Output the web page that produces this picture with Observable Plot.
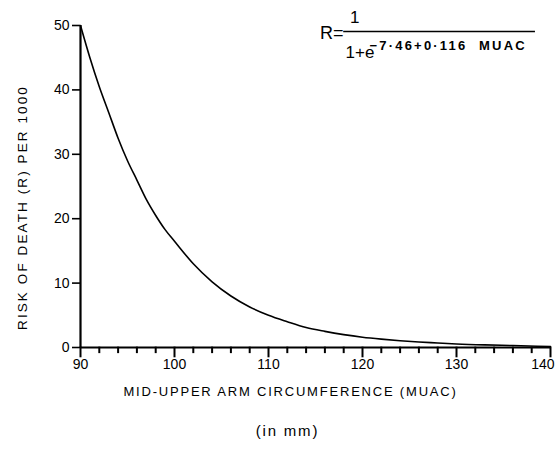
<!DOCTYPE html>
<html><head><meta charset="utf-8">
<script src="https://cdn.jsdelivr.net/npm/d3@7"></script>
<script src="https://cdn.jsdelivr.net/npm/@observablehq/plot@0.6"></script>
<style>
body{margin:0;background:#fff}
svg{font-family:"Liberation Sans",Arial,sans-serif}
.lab text{letter-spacing:1.8px}
.ylab text{letter-spacing:2.1px}
.expo text{letter-spacing:2.2px}
</style>
</head><body><div id="chart"></div>
<script>
// Curve: MUAC (mm) vs risk of death per 1000
const muac = [90, 91, 92, 93, 94, 95, 96, 97, 98, 99, 100, 102, 104, 106, 108, 110, 112, 114, 116, 118, 120, 122, 124, 126, 128, 130, 133, 136, 140];
const risk = [50, 45, 40.5, 36.5, 32.5, 29, 26, 23, 20.5, 18.3, 16.5, 13, 10.2, 8, 6.3, 5, 4, 3.1, 2.5, 2, 1.6, 1.3, 1.05, 0.85, 0.7, 0.55, 0.4, 0.3, 0.15];
const xTickValues = [90, 100, 110, 120, 130];
const xLastTick = [140];
const xMajorTickValues = [90, 100, 110, 120, 130, 140];
const xMinorTickValues = [92, 94, 96, 98, 102, 104, 106, 108, 112, 114, 116, 118, 122, 124, 126, 128, 132, 134, 136, 138];
const yTickValues = [0, 10, 20, 30, 40, 50];
const yTitle = "RISK OF DEATH (R) PER 1000";
const xTitle = "MID-UPPER ARM CIRCUMFERENCE (MUAC)";
const xUnit = "(in mm)";

const data = muac.map((m, i) => ({muac: m, risk: risk[i]}));

const chart = Plot.plot({
  width: 559,
  height: 463,
  marginLeft: 80,
  marginRight: 9,
  marginTop: 25,
  marginBottom: 116,
  style: {fontFamily: "Liberation Sans, Arial, sans-serif", color: "#000", background: "#fff"},
  x: {domain: [90, 140], label: null},
  y: {domain: [0, 50], label: null},
  marks: [
    Plot.ruleX([90], {y1: 0, y2: 50, strokeWidth: 2.2}),
    Plot.ruleY([0], {x1: 90, x2: 140, strokeWidth: 2.2}),
    Plot.axisX({ticks: xTickValues, tickSize: 0, tickPadding: 12, fontSize: 14, label: null}),
    Plot.axisX({ticks: xLastTick, tickSize: 0, tickPadding: 12, fontSize: 14, label: null, textAnchor: "end", dx: 4}),
    Plot.axisY({ticks: yTickValues, tickSize: 8, tickPadding: 3, fontSize: 14, label: null, stroke: "#000", strokeWidth: 1.6}),
    Plot.line(data, {x: "muac", y: "risk", curve: "monotone-x", stroke: "#000", strokeWidth: 1.6}),
    Plot.text([yTitle], {frameAnchor: "left", textAnchor: "middle", lineAnchor: "middle", rotate: -90, dx: -58, dy: 21, fontSize: 13.5, className: "ylab"}),
    Plot.text([xTitle], {frameAnchor: "bottom", lineAnchor: "middle", dx: -25, dy: 44, fontSize: 13, className: "lab"}),
    Plot.text([xUnit], {frameAnchor: "bottom", lineAnchor: "middle", dx: -28, dy: 84, fontSize: 15, className: "lab"}),
    // Formula
    Plot.text(["R="], {frameAnchor: "top-right", lineAnchor: "middle", dx: -207, dy: 8, fontSize: 18, textAnchor: "end"}),
    Plot.text(["1"], {frameAnchor: "top-right", lineAnchor: "middle", dx: -191, dy: -8, fontSize: 17}),
    Plot.ruleY([49.07], {x1: 118.0, x2: 138.4, strokeWidth: 1.5}),
    Plot.text(["1+e"], {frameAnchor: "top-right", lineAnchor: "middle", dx: -205, dy: 27, fontSize: 17, textAnchor: "start"}),
    Plot.text(["\u22127·46+0·116  MUAC"], {frameAnchor: "top-right", lineAnchor: "middle", dx: -181, dy: 20, fontSize: 13, fontWeight: "bold", textAnchor: "start", className: "expo"}),
    // x-axis tick marks hanging below the baseline, drawn last
    Plot.ruleX(xMinorTickValues, {y1: 0.05, y2: -0.95, stroke: "black", strokeWidth: 2}),
    Plot.ruleX(xMajorTickValues, {y1: 0.05, y2: -1.6, stroke: "black", strokeWidth: 2})
  ]
});
document.getElementById("chart").appendChild(chart);
</script>
</body></html>
